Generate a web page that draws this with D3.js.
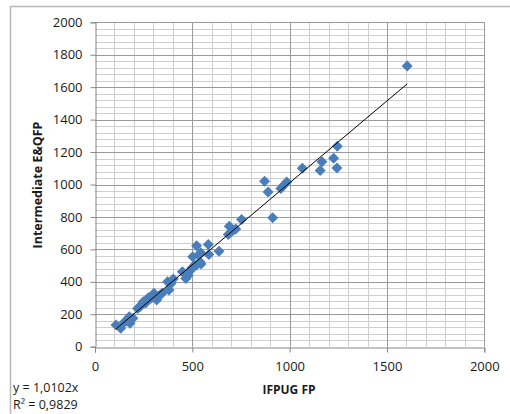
<!DOCTYPE html>
<html>
<head>
<meta charset="utf-8">
<script src="https://cdn.jsdelivr.net/npm/d3@7"></script>
<style>
  body { margin: 0; background: #fff; }
  text { font-family: "Open Sans", "Liberation Sans", sans-serif; fill: #1a1a1a; }
</style>
</head>
<body>
<div id="chart"></div>
<script>
// IFPUG FP vs Intermediate E&QFP
const ifpugFP = [108, 132, 150, 163, 176, 180, 195, 219, 231, 240, 248, 260, 274, 290, 303, 317, 330, 345,
  373, 380, 390, 402, 449, 467, 479, 490, 497, 510, 522, 539, 545, 502, 534, 522, 543, 582, 585, 637,
  685, 690, 710, 723, 753, 871, 889, 913, 955, 970, 985, 1065, 1157, 1166, 1226, 1245, 1243, 1604];
const eqfp = [134, 113, 150, 158, 185, 144, 175, 236, 246, 260, 277, 270, 302, 300, 329, 288, 315, 330,
  400, 349, 390, 417, 462, 421, 441, 470, 483, 500, 503, 523, 510, 554, 565, 622, 579, 630, 569, 589,
  692, 743, 718, 725, 784, 1020, 953, 795, 975, 995, 1015, 1100, 1086, 1141, 1162, 1236, 1102, 1730];
const xTicks = [0, 500, 1000, 1500, 2000];
const yTicks = [0, 200, 400, 600, 800, 1000, 1200, 1400, 1600, 1800, 2000];
const slope = 1.0102;
const eqLabel = "y = 1,0102x";
const r2Label = "R\u00b2 = 0,9829";

const width = 510, height = 414;
const svg = d3.select("#chart").append("svg")
  .attr("width", width)
  .attr("height", height);

// outer chart frame
svg.append("rect")
  .attr("x", 10.5).attr("y", 6.5)
  .attr("width", 530).attr("height", 430)
  .attr("fill", "none")
  .attr("stroke", "#b8b8b8")
  .attr("stroke-width", 1.5);

const x = d3.scaleLinear().domain([0, 2000]).range([95, 484.3]);
const y = d3.scaleLinear().domain([0, 2000]).range([346.7, 22.3]);

// grid
const grid = svg.append("g");
grid.selectAll(".vminor")
  .data(d3.range(100, 2001, 100).filter(v => v % 500 !== 0))
  .enter().append("line")
  .attr("x1", d => Math.round(x(d)) + 0.5).attr("x2", d => Math.round(x(d)) + 0.5)
  .attr("y1", y(0)).attr("y2", y(2000))
  .attr("stroke", "#cfcfcf");
grid.selectAll(".hminor")
  .data(d3.range(40, 2001, 40).filter(v => v % 200 !== 0))
  .enter().append("line")
  .attr("x1", x(0)).attr("x2", x(2000))
  .attr("y1", d => Math.round(y(d)) + 0.5).attr("y2", d => Math.round(y(d)) + 0.5)
  .attr("stroke", "#cfcfcf");
grid.selectAll(".vmajor")
  .data(xTicks.slice(1))
  .enter().append("line")
  .attr("x1", d => Math.round(x(d)) + 0.5).attr("x2", d => Math.round(x(d)) + 0.5)
  .attr("y1", y(0)).attr("y2", y(2000))
  .attr("stroke", "#9a9a9a");
grid.selectAll(".hmajor")
  .data(yTicks.slice(1))
  .enter().append("line")
  .attr("x1", x(0)).attr("x2", x(2000))
  .attr("y1", d => Math.round(y(d)) + 0.5).attr("y2", d => Math.round(y(d)) + 0.5)
  .attr("stroke", "#9a9a9a");

// axes
const fmt = d3.format("d");
const xAxis = svg.append("g")
  .attr("transform", `translate(0,${Math.round(y(0)) + 0.5})`)
  .call(d3.axisBottom(x).tickValues(xTicks).tickFormat(fmt).tickSize(5).tickPadding(9));
const yAxis = svg.append("g")
  .attr("transform", `translate(${Math.round(x(0)) + 0.5},0)`)
  .call(d3.axisLeft(y).tickValues(yTicks).tickFormat(fmt).tickSize(5).tickPadding(8));
[xAxis, yAxis].forEach(g => {
  g.selectAll(".domain, line").attr("stroke", "#868686");
  g.selectAll("text").style("font-size", "13px").attr("fill", "#111");
});

// trend line
const xExt = d3.extent(ifpugFP);

// points (diamonds)
svg.selectAll(".pt")
  .data(ifpugFP.map((v, i) => [v, eqfp[i]]))
  .enter().append("path")
  .attr("class", "pt")
  .attr("d", "M0,-5.5L5.5,0L0,5.5L-5.5,0Z")
  .attr("transform", d => `translate(${x(d[0])},${y(d[1])})`)
  .attr("fill", "#4a7ebb");

// trend line on top of markers
svg.append("line")
  .attr("x1", x(xExt[0])).attr("y1", y(slope * xExt[0]))
  .attr("x2", x(xExt[1])).attr("y2", y(slope * xExt[1]))
  .attr("stroke", "#000")
  .attr("stroke-width", 1);

// titles
svg.append("text")
  .attr("x", 289).attr("y", 394)
  .attr("text-anchor", "middle")
  .style("font-size", "12px")
  .style("font-weight", "bold")
  .text("IFPUG FP");
svg.append("text")
  .attr("transform", "translate(42,185) rotate(-90)")
  .attr("text-anchor", "middle")
  .style("font-size", "12.5px")
  .style("font-weight", "bold")
  .text("Intermediate E&QFP");

svg.append("text")
  .attr("x", 13).attr("y", 392)
  .style("font-size", "12.5px")
  .text(eqLabel);
svg.append("text")
  .attr("x", 13).attr("y", 409)
  .style("font-size", "12.5px")
  .text(r2Label);
</script>
</body>
</html>
